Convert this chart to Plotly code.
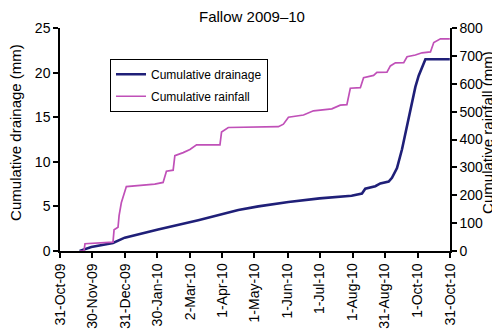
import pandas as pd
import plotly.graph_objects as go

base = pd.Timestamp("2009-10-31")

# Cumulative rainfall (mm), days after 31-Oct-09
rain_day = [18.7, 22.4, 23.4, 35.6, 49.6, 50.6, 54.3, 55.3, 57.4, 62.1, 77.8, 88.7, 96.5, 99.6,
            105.9, 107.5, 115.3, 121.6, 127.8, 149.7, 151.2, 157.5, 204.4, 209.1, 213.8, 227.9,
            237.2, 254.4, 262.3, 268.5, 271.7, 281.1, 284.1, 293.5, 296.6, 306.0, 309.2, 313.9,
            321.7, 324.8, 332.6, 338.8, 346.7, 349.8, 356.1, 364.8]
rain_mm = [0, 0, 26, 28, 32, 76, 85, 127, 173, 231, 235, 240, 246, 286,
           290, 342, 353, 364, 381, 381, 427, 443, 446, 455, 480, 488,
           503, 510, 523, 525, 584, 586, 622, 630, 641, 642, 664, 675,
           676, 697, 703, 711, 714, 748, 761, 761]

# Cumulative drainage (mm)
drain_day = [18.4, 29.3, 49.6, 60.6, 91.8, 120.0, 129.4, 166.9, 185.6, 213.8, 242.9, 272.9,
             282.6, 285.7, 295.1, 299.8, 307.6, 310.7, 315.4, 320.1, 324.8, 328.0, 332.6,
             335.7, 342.0, 364.8]
drain_mm = [0, 0.46, 0.9, 1.5, 2.4, 3.2, 3.45, 4.6, 5.0, 5.5, 5.9, 6.2,
            6.45, 6.98, 7.26, 7.57, 7.78, 8.2, 9.3, 11.4, 14.0, 15.8, 18.4,
            19.65, 21.5, 21.5]

tick_dates = ["2009-10-31", "2009-11-30", "2009-12-31", "2010-01-30", "2010-03-02", "2010-04-01",
              "2010-05-01", "2010-06-01", "2010-07-01", "2010-08-01", "2010-08-31", "2010-10-01",
              "2010-10-31"]
tick_labels = ["31-Oct-09", "30-Nov-09", "31-Dec-09", "30-Jan-10", "2-Mar-10", "1-Apr-10",
               "1-May-10", "1-Jun-10", "1-Jul-10", "1-Aug-10", "31-Aug-10", "1-Oct-10",
               "31-Oct-10"]

rain_x = base + pd.to_timedelta(rain_day, unit="D")
drain_x = base + pd.to_timedelta(drain_day, unit="D")

FONT = "Liberation Sans, Arial, sans-serif"
L, R, T, B = 52, 58, 18, 79
W, H = 500, 333
PW = W - L - R

fig = go.Figure()
fig.add_trace(go.Scatter(x=drain_x, y=drain_mm, mode="lines", name="Cumulative drainage",
                         legendgroup="d", line=dict(color="#1f1f78", width=2.6), yaxis="y"))
fig.add_trace(go.Scatter(x=rain_x, y=rain_mm, mode="lines", name="Cumulative rainfall",
                         legendgroup="r", line=dict(color="#c050b8", width=1.7), yaxis="y2"))

axis_common = dict(showgrid=False, zeroline=False, showline=True, linecolor="black", linewidth=1.5,
                   ticks="outside", ticklen=5, tickwidth=1.5, tickcolor="black",
                   tickfont=dict(family=FONT, size=14, color="black"))

fig.update_layout(
    width=W, height=H,
    margin=dict(l=L, r=R, t=T, b=B),
    paper_bgcolor="white", plot_bgcolor="white",
    font=dict(family=FONT, color="black"),
    title=dict(text="Fallow 2009–10", x=244 / W, xanchor="center", y=1 - 9 / H, yanchor="middle",
               font=dict(family=FONT, size=15, color="black")),
    showlegend=True,
    legend=dict(x=(102 - L) / PW, y=0.862, xanchor="left", yanchor="top", bordercolor="black",
                borderwidth=1, bgcolor="white", font=dict(family=FONT, size=12, color="black"),
                itemwidth=30, tracegroupgap=3),
    xaxis=dict(type="date", range=["2009-10-31", "2010-10-31"], tickvals=tick_dates,
               ticktext=tick_labels, tickangle=-90, **axis_common),
    yaxis=dict(range=[0, 25], tickvals=[0, 5, 10, 15, 20, 25], **axis_common),
    yaxis2=dict(range=[0, 800], tickvals=[0, 100, 200, 300, 400, 500, 600, 700, 800], overlaying="y",
                side="right", **axis_common),
    annotations=[
        dict(text="Cumulative drainage (mm)", textangle=-90, xref="paper", yref="paper",
             x=(8 - L) / PW, y=(H - B - 129) / (H - T - B), xanchor="center", yanchor="middle",
             showarrow=False, borderpad=0, font=dict(family=FONT, size=15, color="black")),
        dict(text="Cumulative rainfall (mm)", textangle=-90, xref="paper", yref="paper",
             x=(480 - L) / PW, y=(H - B - 129) / (H - T - B), xanchor="center", yanchor="middle",
             showarrow=False, borderpad=0, font=dict(family=FONT, size=15, color="black")),
    ],
)

fig.write_html("out.html")
